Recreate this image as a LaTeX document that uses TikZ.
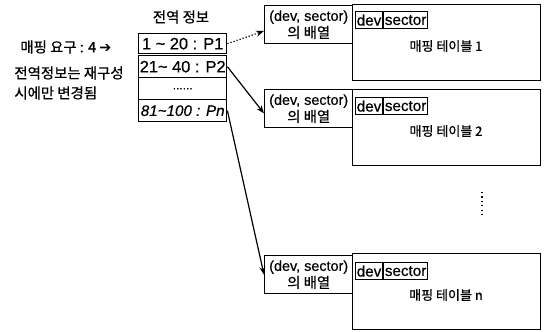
\documentclass[tikz,border=0pt]{standalone}
\usepackage{fontspec}
\setmainfont{Liberation Sans}[FakeBold=0.5]
\newfontfamily\krfont{Noto Sans CJK KR}[FakeBold=0.8]
\newfontfamily\symfont{DejaVu Sans}
\usetikzlibrary{arrows.meta,positioning}

\begin{document}
\begin{tikzpicture}[x=0.5pt, y=-0.5pt,
    cell/.style={draw, line width=0.7pt, minimum width=44pt, minimum height=11pt, inner sep=0pt, anchor=north west, font=\fontsize{8.2}{9}\selectfont},
    pair/.style={draw, line width=0.7pt, minimum width=44pt, minimum height=19pt, inner sep=0pt, align=center, anchor=north west, font=\fontsize{7.2}{8.5}\selectfont},
    tab/.style={draw, line width=0.7pt, minimum width=94pt, minimum height=38pt, anchor=north west},
    fld/.style={draw, line width=0.6pt, minimum height=8.5pt, inner xsep=0.6pt, inner ysep=0pt, anchor=north west, font=\fontsize{7.6}{8}\selectfont},
    ttl/.style={font={\krfont\fontsize{6.5}{7}\selectfont}},
    kr/.style={font={\krfont\fontsize{7.2}{10}\selectfont}},
    arr/.style={-{Stealth[length=4pt, width=3pt]}, line width=0.6pt}
]
\useasboundingbox (0,0) rectangle (549,331);

\node[kr] (gtitle) at (181,17) {전역 정보};
\node[cell, minimum height=10pt] (r1) at (138,33) {1 \textasciitilde{} 20 : P1};
\node[cell] (r2) at (138,55) {21\textasciitilde{} 40 : P2};
\node[cell] (r3) at (138,77) {{\fontsize{6}{6}\selectfont ......}};
\node[cell, font=\fontsize{7.6}{9}\selectfont\itshape] (r4) at (138,99) {81\textasciitilde 100 : Pn};

\node[kr, anchor=west, inner sep=0pt] (req) at (20,47) {매핑 요구 : 4 {\symfont ➔}};
\node[kr, anchor=west, align=left, inner sep=0pt] (note) at (14,83) {전역정보는 재구성\\시에만 변경됨};

\node[pair] (arr1) at (264,5) {(dev, sector)\\{\krfont 의 배열}};
\node[tab] (map1) at (352,4) {};
\node[fld] (dev1) at (355,11) {dev};
\node[fld, right=0pt of dev1] (sec1) {sector};
\node[ttl] (lab1) at (446,46) {매핑 테이블 1};

\node[pair] (arr2) at (264,89) {(dev, sector)\\{\krfont 의 배열}};
\node[tab] (map2) at (352,89) {};
\node[fld] (dev2) at (355,97) {dev};
\node[fld, right=0pt of dev2] (sec2) {sector};
\node[ttl] (lab2) at (446,131) {매핑 테이블 2};

\node[pair] (arr3) at (264,255) {(dev, sector)\\{\krfont 의 배열}};
\node[tab] (map3) at (352,253) {};
\node[fld] (dev3) at (355,262) {dev};
\node[fld, right=0pt of dev3] (sec3) {sector};
\node[ttl] (lab3) at (446,295) {매핑 테이블 n};

\draw[line width=0.9pt, dash pattern=on 0.6pt off 1.6pt] (482,192) -- (482,218);

\draw[arr, densely dotted] (r1.east) -- (arr1.188);
\draw[arr] (r2.east) -- (arr2.186);
\draw[arr] (r4.east) -- (arr3.west);
\end{tikzpicture}
\end{document}
